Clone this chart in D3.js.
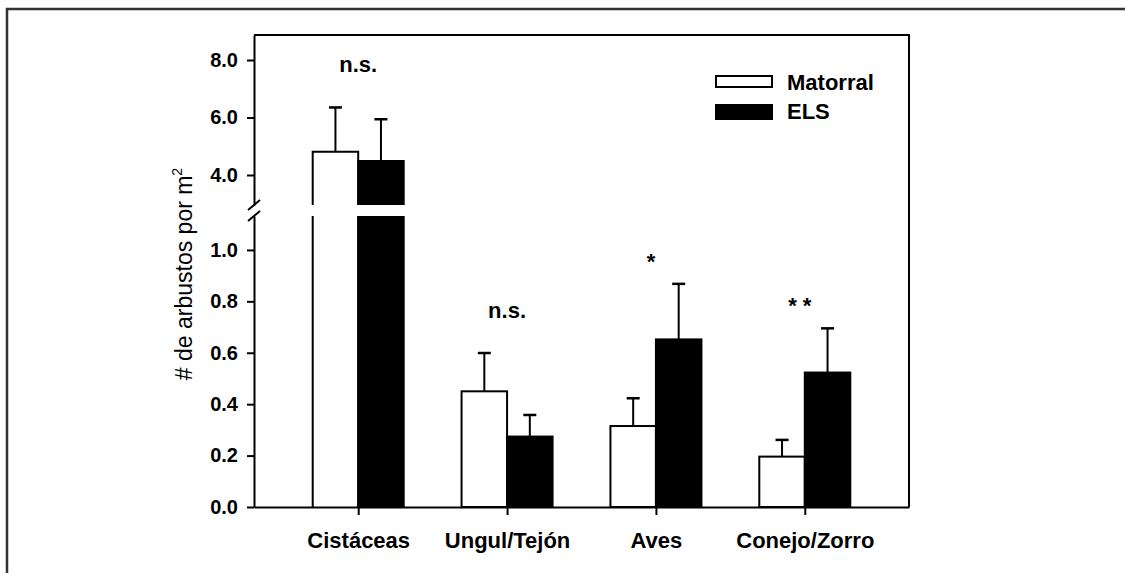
<!DOCTYPE html>
<html>
<head>
<meta charset="utf-8">
<script src="https://cdn.jsdelivr.net/npm/d3@7"></script>
<style>
  html, body { margin: 0; padding: 0; background: #fff; }
  svg { display: block; font-family: "Liberation Sans", Arial, sans-serif; }
</style>
</head>
<body>
<svg id="chart" width="1125" height="573"></svg>
<script>
// Shrub density per dispersal group, open scrub (Matorral) vs ELS
const categories = ["Cistáceas", "Ungul/Tejón", "Aves", "Conejo/Zorro"];
const seriesNames = ["Matorral", "ELS"];
const matorral = [4.81, 0.45, 0.315, 0.196];
const matorralErr = [1.54, 0.149, 0.108, 0.065];
const els = [4.49, 0.274, 0.652, 0.523];
const elsErr = [1.45, 0.084, 0.216, 0.172];
const significance = ["n.s.", "n.s.", "*", "* *"];
const lowTicks = [0, 0.2, 0.4, 0.6, 0.8, 1.0];
const highTicks = [4, 6, 8];
const yTitle = "# de arbustos por m";

const svg = d3.select("#chart");
const W = 1125, H = 573;
svg.append("rect").attr("width", W).attr("height", H).attr("fill", "#fff");

// outer figure border (runs off the right/bottom edge)
svg.append("rect")
  .attr("x", 7).attr("y", 9).attr("width", 1300).attr("height", 800)
  .attr("fill", "none").attr("stroke", "#333").attr("stroke-width", 2.5);

const plotLeft = 254, plotRight = 909, plotTop = 35, plotBottom = 507;
const lowTop = 216, highBottom = 205;

// broken y axis: lower segment 0–1.13, upper segment 2.96–8.87
const yLow = d3.scaleLinear().domain([0, 1.132]).range([plotBottom, lowTop]);
const yHigh = d3.scaleLinear().domain([2.957, 8.87]).range([highBottom, plotTop]);
const yOf = v => v > yLow.domain()[1] ? yHigh(v) : yLow(v);

const x = d3.scalePoint().domain(categories).range([plotLeft, plotRight]).padding(0.70);
const barW = 45.5;

const fmt = d3.format(".1f");
const tickFont = 20;

function styleAxis(g) {
  g.selectAll("path.domain").attr("stroke", "#000").attr("stroke-width", 2);
  g.selectAll(".tick line").attr("stroke", "#000").attr("stroke-width", 2);
  g.selectAll(".tick text").attr("fill", "#000").attr("font-weight", "bold")
    .attr("font-family", "'Liberation Sans', Arial, sans-serif");
}

const gLow = svg.append("g").attr("transform", `translate(${plotLeft},0)`)
  .call(d3.axisLeft(yLow).tickValues(lowTicks).tickFormat(fmt)
    .tickSize(7).tickPadding(9).tickSizeOuter(0));
gLow.attr("font-size", tickFont);
styleAxis(gLow);

const gHigh = svg.append("g").attr("transform", `translate(${plotLeft},0)`)
  .call(d3.axisLeft(yHigh).tickValues(highTicks).tickFormat(fmt)
    .tickSize(7).tickPadding(9).tickSizeOuter(0));
gHigh.attr("font-size", tickFont);
styleAxis(gHigh);

// break marks on the axis
[highBottom, lowTop].forEach(yb => {
  svg.append("line")
    .attr("x1", plotLeft - 6).attr("y1", yb + 5)
    .attr("x2", plotLeft + 6).attr("y2", yb - 5)
    .attr("stroke", "#000").attr("stroke-width", 2);
});

// frame: top and right edges
svg.append("path")
  .attr("d", `M${plotLeft},${plotTop}H${plotRight}V${plotBottom}`)
  .attr("fill", "none").attr("stroke", "#000").attr("stroke-width", 2);

// bars
const series = [
  { name: seriesNames[0], values: matorral, err: matorralErr, fill: "#fff", offset: -barW },
  { name: seriesNames[1], values: els, err: elsErr, fill: "#000", offset: 0 }
];

const barsG = svg.append("g");
series.forEach(s => {
  s.values.forEach((v, i) => {
    const x0 = x(categories[i]) + s.offset;
    const x1 = x0 + barW;
    const broken = v > yLow.domain()[1];
    if (broken) {
      // lower piece runs up to the break, upper piece from the break to the value
      barsG.append("rect").attr("x", x0).attr("y", lowTop)
        .attr("width", barW).attr("height", plotBottom - lowTop).attr("fill", s.fill);
      barsG.append("path")
        .attr("d", `M${x0},${plotBottom}V${lowTop}M${x1},${lowTop}V${plotBottom}`)
        .attr("fill", "none").attr("stroke", "#000").attr("stroke-width", 2);
      const yt = yHigh(v);
      barsG.append("rect").attr("x", x0).attr("y", yt)
        .attr("width", barW).attr("height", highBottom - yt).attr("fill", s.fill);
      barsG.append("path")
        .attr("d", `M${x0},${highBottom}V${yt}H${x1}V${highBottom}`)
        .attr("fill", "none").attr("stroke", "#000").attr("stroke-width", 2);
    } else {
      const yt = yLow(v);
      barsG.append("rect").attr("x", x0).attr("y", yt)
        .attr("width", barW).attr("height", plotBottom - yt)
        .attr("fill", s.fill).attr("stroke", "#000").attr("stroke-width", 2);
    }
    // upper error bar
    const cx = x0 + barW / 2;
    const ye = yOf(v + s.err[i]);
    barsG.append("line").attr("x1", cx).attr("x2", cx)
      .attr("y1", yOf(v)).attr("y2", ye)
      .attr("stroke", "#000").attr("stroke-width", 2);
    barsG.append("line").attr("x1", cx - 6.5).attr("x2", cx + 6.5)
      .attr("y1", ye).attr("y2", ye)
      .attr("stroke", "#000").attr("stroke-width", 2.5);
  });
});

// x axis
const gX = svg.append("g").attr("transform", `translate(0,${plotBottom})`)
  .call(d3.axisBottom(x).tickSize(8).tickPadding(17).tickSizeOuter(0));
gX.attr("font-size", 22);
styleAxis(gX);

// significance labels above each group
categories.forEach((c, i) => {
  const topVal = Math.max(matorral[i] + matorralErr[i], els[i] + elsErr[i]);
  const isNs = significance[i] === "n.s.";
  svg.append("text")
    .attr("x", x(c) + (isNs ? 0 : -5))
    .attr("y", yOf(topVal) - (isNs ? 35 : 15))
    .attr("text-anchor", "middle")
    .attr("font-size", 22).attr("font-weight", "bold")
    .attr("fill", "#000")
    .attr("xml:space", "preserve")
    .text(significance[i]);
});

// y axis title
const yTitleText = svg.append("text")
  .attr("transform", "translate(192,274) rotate(-90)")
  .attr("text-anchor", "middle")
  .attr("font-size", 23).attr("fill", "#000");
yTitleText.append("tspan").text(yTitle);
yTitleText.append("tspan").attr("font-size", 14).attr("dy", -10).text("2");

// legend
const legend = svg.append("g");
series.forEach((s, i) => {
  const ly = 82 + i * 29;
  legend.append("rect")
    .attr("x", 716).attr("y", ly - 6).attr("width", 56).attr("height", i === 0 ? 11 : 14)
    .attr("fill", s.fill).attr("stroke", "#000").attr("stroke-width", 2);
  legend.append("text")
    .attr("x", 787).attr("y", ly).attr("dy", "0.36em")
    .attr("font-size", 22).attr("font-weight", "bold").attr("fill", "#000")
    .text(s.name);
});
</script>
</body>
</html>
